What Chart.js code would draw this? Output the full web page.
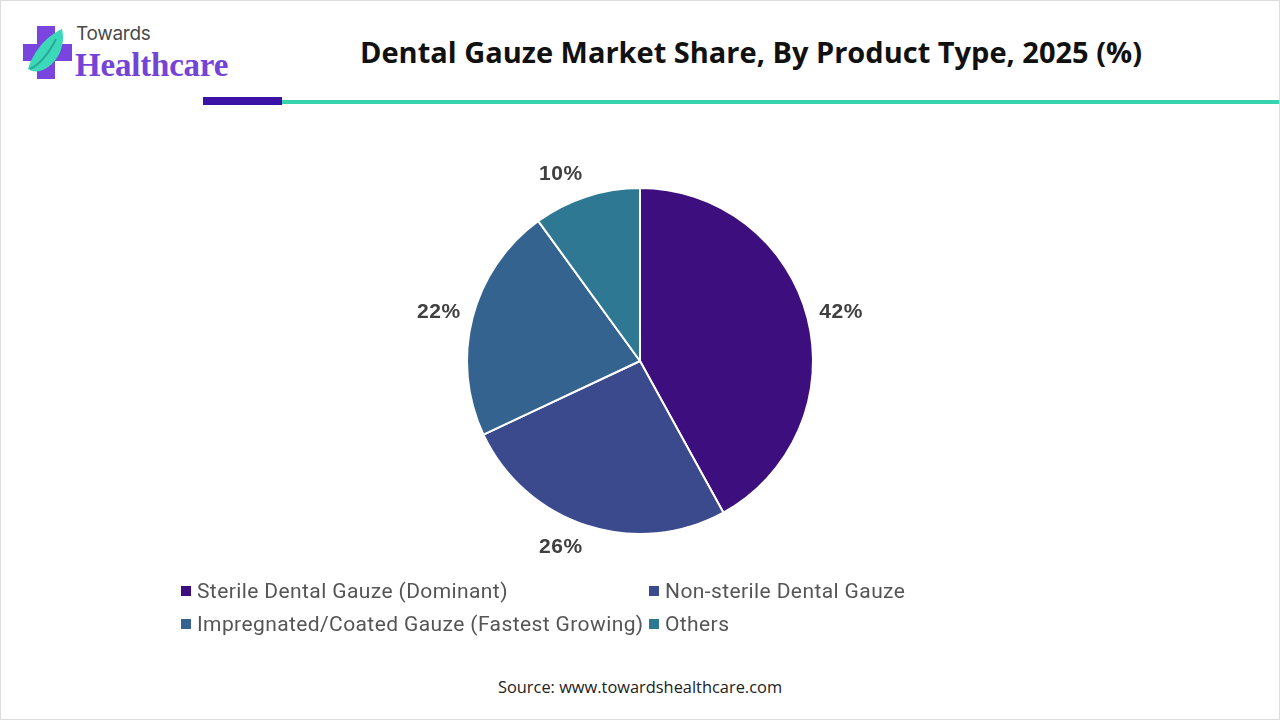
<!DOCTYPE html>
<html>
<head>
<meta charset="utf-8">
<script src="https://cdn.jsdelivr.net/npm/chart.js@4.4.1/dist/chart.umd.min.js"></script>
<style>
  html, body { margin: 0; padding: 0; background: #fff; }
  #page { position: relative; width: 1278px; height: 718px; border: 1px solid #dcdcdc; overflow: hidden; font-family: 'Open Sans', sans-serif; }
  #logo { position: absolute; left: 21px; top: 24px; }
  #towards { position: absolute; left: 75px; top: 21px; font: 400 19px 'Inter', sans-serif; color: #4a4a4a; letter-spacing: -0.3px; }
  #health { position: absolute; left: 74px; top: 46px; font: 700 33px 'Liberation Serif', serif; color: #7444d6; letter-spacing: -0.2px; }
  #title { position: absolute; left: 300px; width: 900px; top: 31px; text-align: center; font: 700 29px 'Open Sans', sans-serif; color: #111; }
  #barDark { position: absolute; left: 202px; top: 96px; width: 79px; height: 8px; background: #3a12a6; }
  #barTeal { position: absolute; left: 281px; top: 99px; width: 1000px; height: 4px; background: #36d3ad; }
  #wrap { position: absolute; left: 0; top: 130px; width: 1278px; height: 460px; }
  #legend { position: absolute; left: 180px; top: 578px; display: grid; grid-template-columns: 468px auto; row-gap: 9px; font: 400 21px 'Roboto', sans-serif; color: #555; letter-spacing: 0.4px; }
  .item { display: flex; align-items: center; height: 24px; white-space: nowrap; }
  .box { width: 10px; height: 10px; margin-right: 6px; flex: none; }
  #source { position: absolute; left: 0; width: 1278px; top: 674px; text-align: center; font: 400 16.4px 'Open Sans', sans-serif; color: #222; }
</style>
</head>
<body>
<div id="page">
  <svg id="logo" width="52" height="56" viewBox="0 0 52 56">
    <path d="M15 1 H33 V19 H50 V36 H33 V54 H15 V36 H1 V19 H15 Z" fill="#7a45de"/>
    <path d="M6 44 C10 30 22 12 40 4 C44 20 36 40 18 46 C13 47 9 46 6 44 Z" fill="#3cd9b8"/>
    <path d="M8 44 C16 40 26 30 34 14" stroke="#2aa99a" stroke-width="2" fill="none"/>
  </svg>
  <div id="towards">Towards</div>
  <div id="health">Healthcare</div>
  <div id="title">Dental Gauze Market Share, By Product Type, 2025 (%)</div>
  <div id="barDark"></div>
  <div id="barTeal"></div>
  <div id="wrap"><canvas id="pie"></canvas></div>
  <div id="legend"></div>
  <div id="source">Source: www.towardshealthcare.com</div>
</div>
<script>
  var categories = ['Sterile Dental Gauze (Dominant)', 'Non-sterile Dental Gauze', 'Impregnated/Coated Gauze (Fastest Growing)', 'Others'];
  var shares = [42, 26, 22, 10];
  var colors = ['#3d0e7d', '#3b4a8c', '#35638f', '#2e7893'];

  // outside-end percent labels, box pushed away from the pie edge
  var outsideLabels = {
    id: 'outsideLabels',
    afterDatasetsDraw: function (chart) {
      var ctx = chart.ctx;
      var meta = chart.getDatasetMeta(0);
      ctx.save();
      ctx.font = "700 21px 'Liberation Sans', Arial, sans-serif";
      ctx.letterSpacing = '0.6px';
      ctx.fillStyle = '#404040';
      ctx.textAlign = 'center';
      ctx.textBaseline = 'middle';
      meta.data.forEach(function (arc, i) {
        var p = arc.getProps(['x', 'y', 'startAngle', 'endAngle', 'outerRadius'], true);
        var mid = (p.startAngle + p.endAngle) / 2;
        var dx = Math.cos(mid);
        var dy = Math.sin(mid);
        var text = shares[i] + '%';
        var hw = ctx.measureText(text).width / 2;
        var hh = 11;
        var r = p.outerRadius + 12;
        var cx = p.x + dx * r + hw * (dx < 0 ? -1 : 1);
        var cy = p.y + dy * r + hh * dy;
        ctx.fillText(text, cx, cy);
      });
      ctx.restore();
    }
  };

  new Chart(document.getElementById('pie'), {
    type: 'pie',
    data: {
      labels: categories,
      datasets: [{
        data: shares,
        backgroundColor: colors,
        borderColor: '#fff',
        borderWidth: 2
      }]
    },
    options: {
      responsive: true,
      maintainAspectRatio: false,
      animation: false,
      layout: { padding: { top: 56, bottom: 56 } },
      plugins: {
        legend: { display: false },
        tooltip: { enabled: false }
      }
    },
    plugins: [outsideLabels]
  });

  var legend = document.getElementById('legend');
  categories.forEach(function (name, i) {
    var item = document.createElement('div');
    item.className = 'item';
    var box = document.createElement('span');
    box.className = 'box';
    box.style.background = colors[i];
    item.appendChild(box);
    item.appendChild(document.createTextNode(name));
    legend.appendChild(item);
  });
</script>
</body>
</html>
